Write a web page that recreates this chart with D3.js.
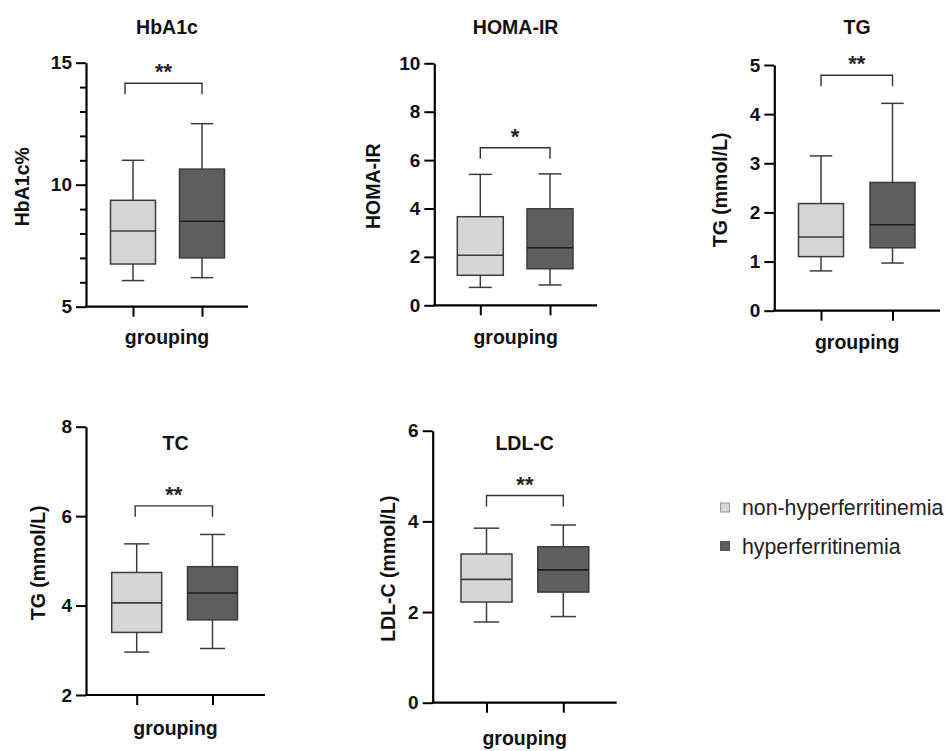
<!DOCTYPE html>
<html>
<head>
<meta charset="utf-8">
<script src="https://cdn.jsdelivr.net/npm/d3@7"></script>
<style>
  body { margin: 0; background: #fff; }
  svg { display: block; font-family: "Liberation Sans", Arial, sans-serif; }
</style>
</head>
<body>
<svg id="chart" width="950" height="751"></svg>
<script>
// chart values
const panelTitles = ['HbA1c', 'HOMA-IR', 'TG', 'TC', 'LDL-C'];
const yLabels = ['HbA1c%', 'HOMA-IR', 'TG (mmol/L)', 'TG (mmol/L)', 'LDL-C (mmol/L)'];
const yDomains = [[5, 15], [0, 10], [0, 5], [2, 8], [0, 6]];
const yTicks = [[5, 10, 15], [0, 2, 4, 6, 8, 10], [0, 1, 2, 3, 4, 5], [2, 4, 6, 8], [0, 2, 4, 6]];
const minorTicks = [[6, 7, 8, 9, 11, 12, 13, 14], [], [], [], []];
const groups = ['non-hyperferritinemia', 'hyperferritinemia'];
// [min, q1, median, q3, max]
const nonHyperStats = [
  [6.07, 6.75, 8.1, 9.36, 11.0],
  [0.74, 1.24, 2.07, 3.66, 5.41],
  [0.81, 1.10, 1.50, 2.18, 3.15],
  [2.96, 3.40, 4.06, 4.74, 5.38],
  [1.78, 2.22, 2.72, 3.28, 3.85]
];
const hyperStats = [
  [6.19, 7.0, 8.5, 10.64, 12.5],
  [0.84, 1.51, 2.38, 3.99, 5.43],
  [0.97, 1.28, 1.75, 2.61, 4.22],
  [3.04, 3.68, 4.28, 4.87, 5.59],
  [1.90, 2.44, 2.93, 3.44, 3.92]
];
const sigMarks = ['**', '*', '**', '**', '**'];
const bracketLevels = [14.16, 6.51, 4.79, 6.23, 4.57];

// layout of each panel (pixels)
const layout = [
  { x0: 86, x1: 248, yTop: 62.7, yBot: 306.7, ticks: [133, 202], boxW: 45, titleY: 27, ylabX: 22, groupY: 343.5, brShift: -8 },
  { x0: 434.3, x1: 597, yTop: 63.3, yBot: 305.3, ticks: [480.3, 550], boxW: 46, titleY: 27, ylabX: 373, groupY: 343.5, brShift: 0 },
  { x0: 774.3, x1: 940, yTop: 65, yBot: 310.7, ticks: [821, 892.5], boxW: 45, titleY: 27, ylabX: 720, groupY: 348.5, brShift: 0 },
  { x0: 86, x1: 265, yTop: 426.7, yBot: 695, ticks: [136.7, 212.5], boxW: 50, titleY: 443, ylabX: 37.7, groupY: 735, brShift: -1.5 },
  { x0: 432.7, x1: 616.7, yTop: 430.7, yBot: 702.7, ticks: [486.5, 563.3], boxW: 51, titleY: 442.7, ylabX: 388.3, groupY: 745, brShift: 0 }
];

const fills = ['#d6d6d6', '#5e5e5e'];
const svg = d3.select('#chart');

panelTitles.forEach((title, i) => {
  const L = layout[i];
  const g = svg.append('g');

  const x = d3.scalePoint().domain(groups).range(L.ticks);
  const y = d3.scaleLinear().domain(yDomains[i]).range([L.yBot, L.yTop]);

  // minor ticks
  g.append('g')
    .attr('transform', `translate(${L.x0},0)`)
    .call(d3.axisLeft(y).tickValues(minorTicks[i]).tickSize(6).tickFormat(''))
    .call(a => a.select('.domain').remove())
    .selectAll('line').attr('stroke', '#000').attr('stroke-width', 2);

  // y axis
  const ya = g.append('g')
    .attr('transform', `translate(${L.x0},0)`)
    .call(d3.axisLeft(y).tickValues(yTicks[i]).tickFormat(d3.format('d'))
      .tickSize(10).tickSizeOuter(0).tickPadding(4));
  ya.select('.domain').attr('stroke', '#000').attr('stroke-width', 2.2);
  ya.selectAll('.tick line').attr('stroke', '#000').attr('stroke-width', 2);
  ya.selectAll('text')
    .attr('fill', '#111')
    .style('font-size', '19px')
    .style('font-weight', 'bold');

  // x axis line and ticks
  g.append('line')
    .attr('x1', L.x0 - 1).attr('x2', L.x1)
    .attr('y1', L.yBot).attr('y2', L.yBot)
    .attr('stroke', '#000').attr('stroke-width', 2.2);
  const xa = g.append('g')
    .attr('transform', `translate(0,${L.yBot})`)
    .call(d3.axisBottom(x).tickSize(10).tickSizeOuter(0).tickFormat(''));
  xa.select('.domain').remove();
  xa.selectAll('.tick line').attr('stroke', '#000').attr('stroke-width', 2);

  // boxes
  const stats = [nonHyperStats[i], hyperStats[i]];
  stats.forEach((s, k) => {
    const cx = x(groups[k]);
    const hw = L.boxW / 2;
    const cap = L.boxW / 4;
    const col = '#3c3c3c';
    // whiskers
    g.append('line').attr('x1', cx).attr('x2', cx).attr('y1', y(s[4])).attr('y2', y(s[3]))
      .attr('stroke', col).attr('stroke-width', 1.5);
    g.append('line').attr('x1', cx).attr('x2', cx).attr('y1', y(s[1])).attr('y2', y(s[0]))
      .attr('stroke', col).attr('stroke-width', 1.5);
    g.append('line').attr('x1', cx - cap).attr('x2', cx + cap).attr('y1', y(s[4])).attr('y2', y(s[4]))
      .attr('stroke', col).attr('stroke-width', 1.5);
    g.append('line').attr('x1', cx - cap).attr('x2', cx + cap).attr('y1', y(s[0])).attr('y2', y(s[0]))
      .attr('stroke', col).attr('stroke-width', 1.5);
    // box
    g.append('rect')
      .attr('x', cx - hw).attr('width', L.boxW)
      .attr('y', y(s[3])).attr('height', y(s[1]) - y(s[3]))
      .attr('fill', fills[k]).attr('stroke', col).attr('stroke-width', 1.5);
    // median
    g.append('line').attr('x1', cx - hw).attr('x2', cx + hw).attr('y1', y(s[2])).attr('y2', y(s[2]))
      .attr('stroke', k === 0 ? col : '#1e1e1e').attr('stroke-width', 1.6);
  });

  // significance bracket
  const by = y(bracketLevels[i]);
  const bx1 = x(groups[0]) + L.brShift;
  const bx2 = x(groups[1]);
  g.append('path')
    .attr('d', `M${bx1},${by + 11}V${by}H${bx2}V${by + 11}`)
    .attr('fill', 'none').attr('stroke', '#333').attr('stroke-width', 1.4);
  g.append('text')
    .attr('x', (bx1 + bx2) / 2).attr('y', by - 4)
    .attr('text-anchor', 'middle')
    .style('font-size', '22px').style('font-weight', 'bold').attr('fill', '#222')
    .text(sigMarks[i]);

  // title
  g.append('text')
    .attr('x', (L.x0 + L.x1) / 2).attr('y', L.titleY)
    .attr('text-anchor', 'middle').attr('dominant-baseline', 'central')
    .style('font-size', '19.5px').style('font-weight', 'bold').attr('fill', '#111')
    .text(title);

  // axis labels
  g.append('text')
    .attr('transform', `translate(${L.ylabX},${(L.yTop + L.yBot) / 2 + 2}) rotate(-90)`)
    .attr('text-anchor', 'middle').attr('dominant-baseline', 'central')
    .style('font-size', '19.5px').style('font-weight', 'bold').attr('fill', '#111')
    .text(yLabels[i]);
  g.append('text')
    .attr('x', (L.x0 + L.x1) / 2).attr('y', L.groupY)
    .attr('text-anchor', 'middle')
    .style('font-size', '19.5px').style('font-weight', 'bold').attr('fill', '#111')
    .text('grouping');
});

// legend
const legend = svg.append('g').attr('transform', 'translate(720,0)');
groups.forEach((name, k) => {
  const cy = [508, 546.5][k];
  legend.append('rect')
    .attr('x', 0.5).attr('y', cy - 5).attr('width', 9).attr('height', 9)
    .attr('fill', fills[k]).attr('stroke', k === 0 ? '#999' : '#555').attr('stroke-width', 1);
  legend.append('text')
    .attr('x', 22).attr('y', cy)
    .attr('dominant-baseline', 'central')
    .style('font-size', '21.3px').attr('fill', '#222')
    .text(name);
});
</script>
</body>
</html>
